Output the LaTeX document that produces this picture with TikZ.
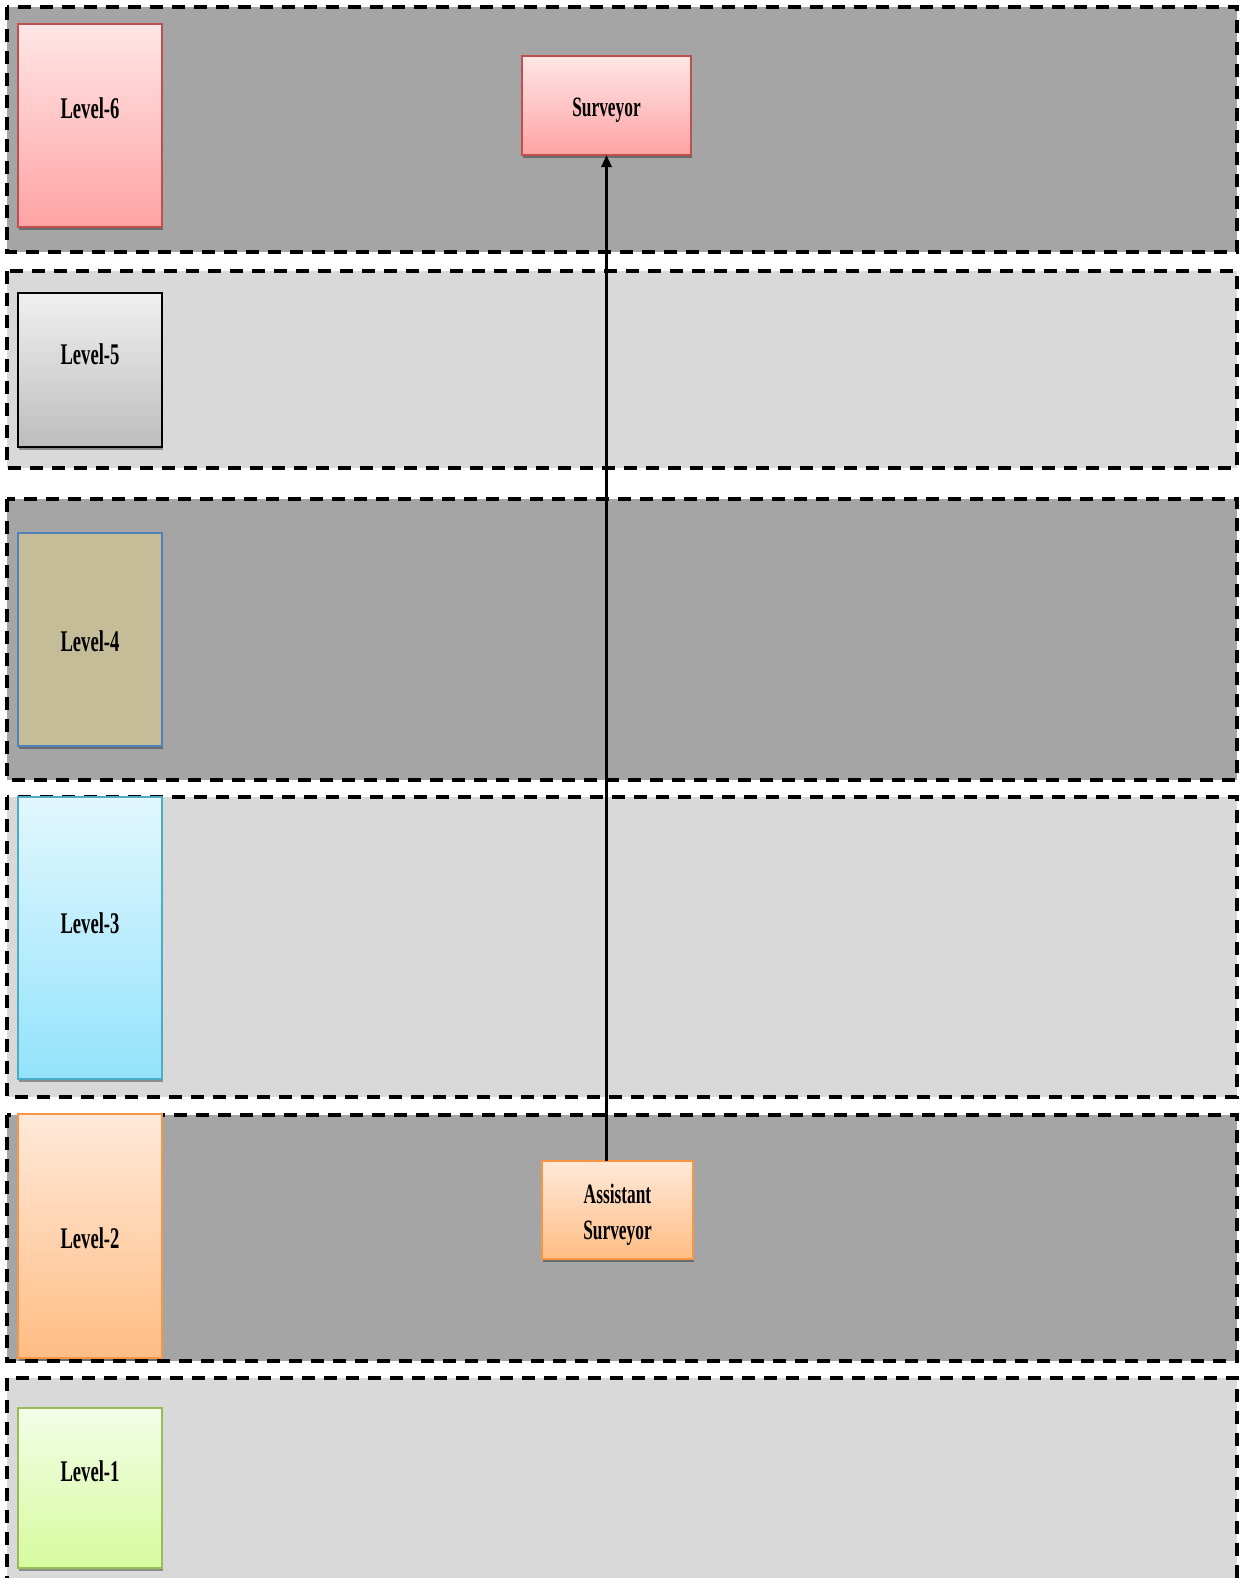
\documentclass[tikz,border=0pt]{standalone}
\usepackage{fontspec}
\setmainfont{Liberation Serif}[FakeStretch=0.62]
\usetikzlibrary{arrows.meta,shadows}
\definecolor{banddark}{HTML}{A5A5A5}
\definecolor{bandlight}{HTML}{D9D9D9}
\definecolor{redB}{HTML}{C0504D}
\definecolor{redT}{HTML}{FFE6E6}
\definecolor{redBot}{HTML}{FFA3A3}
\definecolor{greyT}{HTML}{F0F0F0}
\definecolor{greyBot}{HTML}{BDBDBD}
\definecolor{tanF}{HTML}{C4BD97}
\definecolor{blueB}{HTML}{4F81BD}
\definecolor{cyanB}{HTML}{4BACC6}
\definecolor{cyanT}{HTML}{E2F7FE}
\definecolor{cyanBot}{HTML}{93E3FB}
\definecolor{orB}{HTML}{F79646}
\definecolor{orT}{HTML}{FFE9D9}
\definecolor{orBot}{HTML}{FFBD84}
\definecolor{grB}{HTML}{9BBB59}
\definecolor{grT}{HTML}{F3FDE8}
\definecolor{grBot}{HTML}{D6FB9D}
\tikzset{
  band/.style={line width=3pt, dash pattern=on 9.75pt off 6.75pt},
  lvlbox/.style={draw, line width=1.5pt, inner sep=0pt, outer sep=0pt,
    minimum width=108pt, drop shadow={shadow xshift=1pt, shadow yshift=-2.5pt, fill=black, opacity=0.35}},
  rolebox/.style={draw, line width=1.5pt, inner sep=0pt, outer sep=0pt,
    drop shadow={shadow xshift=1pt, shadow yshift=-2.5pt, fill=black, opacity=0.35}},
  lvltext/.style={font=\fontsize{22.5}{27}\selectfont\bfseries, inner sep=0pt},
  roletext/.style={font=\fontsize{21}{27}\selectfont\bfseries, inner sep=0pt, align=center},
}
\begin{document}
\begin{tikzpicture}[x=0.75pt,y=-0.75pt]
\useasboundingbox (0,0) rectangle (1239,1578);
\clip (0,0) rectangle (1239,1578);
% bands
\path[fill=banddark] (7,7) rectangle (1237,252);
\path[fill=bandlight] (7,271) rectangle (1237,468);
\path[fill=banddark] (7,499) rectangle (1237,780);
\path[fill=bandlight] (7,797) rectangle (1237,1097);
\path[fill=banddark] (7,1115) rectangle (1237,1361);
\path[fill=bandlight] (7,1378) rectangle (1237,1600);
\draw[band] (7,7) rectangle (1237,252);
\draw[band] (7,271) rectangle (1237,468);
\draw[band] (7,499) rectangle (1237,780);
\draw[band] (7,797) rectangle (1237,1097);
\draw[band] (7,1115) rectangle (1237,1361);
\draw[band] (7,1378) rectangle (1237,1600);
% level boxes
\node[lvlbox, draw=redB, top color=redT, bottom color=redBot, minimum height=152.25pt] (l6) at (90,125.5) {};
\node[lvlbox, draw=black, top color=greyT, bottom color=greyBot, minimum height=115.5pt] (l5) at (90,370) {};
\node[lvlbox, draw=blueB, fill=tanF, minimum height=159.75pt] (l4) at (90,639.5) {};
\node[lvlbox, draw=cyanB, top color=cyanT, bottom color=cyanBot, minimum height=211.5pt] (l3) at (90,938) {};
\node[lvlbox, draw=orB, top color=orT, bottom color=orBot, minimum height=183pt] (l2) at (90,1236) {};
\node[lvlbox, draw=grB, top color=grT, bottom color=grBot, minimum height=120pt] (l1) at (90,1488) {};
\node[lvltext] (t6) at (90,108) {Level-6};
\node[lvltext] (t5) at (90,354) {Level-5};
\node[lvltext] (t4) at (90,641) {Level-4};
\node[lvltext] (t3) at (90,923) {Level-3};
\node[lvltext] (t2) at (90,1238) {Level-2};
\node[lvltext] (t1) at (90,1471) {Level-1};
% role boxes
\node[rolebox, draw=redB, top color=redT, bottom color=redBot, minimum width=126.75pt, minimum height=74.25pt] (surv) at (606.5,105.5) {};
\node[roletext, anchor=base] (survt) at (606.5,116) {Surveyor};
\node[rolebox, draw=orB, top color=orT, bottom color=orBot, minimum width=113.25pt, minimum height=73.5pt] (asst) at (617.5,1210) {};
\node[roletext] (asstt) at (617.5,1215) {Assistant\\Surveyor};
% connector
\draw[line width=2.25pt, -{Triangle[length=9pt,width=7.5pt]}] (asst.north -| surv.south) -- (surv.south);
\end{tikzpicture}
\end{document}
